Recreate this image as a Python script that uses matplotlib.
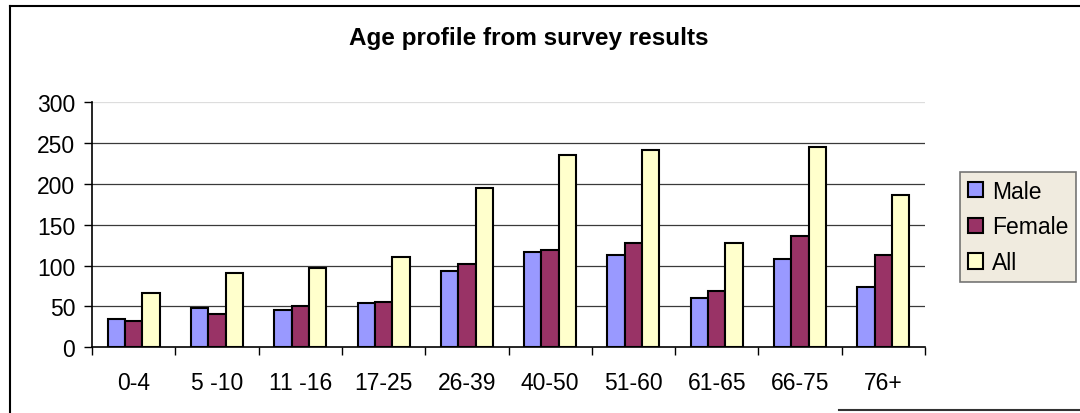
import numpy as np
import matplotlib
matplotlib.use("Agg")
import matplotlib.pyplot as plt
from matplotlib.lines import Line2D

plt.rcParams["font.family"] = ["Liberation Sans", "DejaVu Sans"]

ages = ["0-4", "5 -10", "11 -16", "17-25", "26-39", "40-50", "51-60", "61-65", "66-75", "76+"]
male = [35, 48, 46, 54, 93, 117, 113, 60, 108, 74]
female = [32, 41, 51, 56, 102, 119, 128, 69, 136, 113]
everyone = [67, 91, 97, 110, 195, 236, 241, 128, 245, 187]

SERIES = [("Male", male, "#9999FF"),
          ("Female", female, "#993366"),
          ("All", everyone, "#FFFFCC")]

fig = plt.figure(figsize=(10.8, 4.14), dpi=100)
ax = fig.add_axes([92 / 1080, 1 - 348.3 / 414, (925 - 92) / 1080, (348.3 - 103.3) / 414])

x = np.arange(len(ages))
w = 0.208
for i, (lab, vals, col) in enumerate(SERIES):
    ax.bar(x + (i - 1) * w, vals, width=w, color=col, edgecolor="black",
           linewidth=1.5, label=lab, zorder=3)

ax.set_xlim(-0.5, len(ages) - 0.5)
ax.set_ylim(0, 300)
ax.set_yticks(range(0, 301, 50))
for yv in range(50, 300, 50):
    ax.axhline(yv, color="#3a3a3a", lw=0.9, zorder=1)
ax.axhline(300, color="#dddddd", lw=0.9, zorder=1)

ax.set_xticks(x)
ax.set_xticklabels(ages)
ax.set_xticks(np.arange(-0.5, len(ages), 1), minor=True)
ax.tick_params(axis="x", which="major", length=0, pad=17, labelsize=16.5)
ax.tick_params(axis="x", which="minor", length=6, width=1, direction="out")
ax.tick_params(axis="y", length=6, width=1, direction="out", labelsize=16.5, pad=6)

for s in ("top", "right"):
    ax.spines[s].set_visible(False)
ax.spines["left"].set_linewidth(1.2)
ax.spines["bottom"].set_linewidth(1.2)

fig.text(529 / 1080, 1 - 39 / 414, "Age profile from survey results",
         ha="center", va="center", fontsize=17.5, fontweight="bold")

leg = fig.legend(loc="upper left", bbox_to_anchor=(960 / 1080, 1 - 172.7 / 414),
                 fontsize=16.5, frameon=True, fancybox=False, handlelength=0.65,
                 handleheight=0.65, handletextpad=0.4, labelspacing=0.55,
                 borderpad=0.35, borderaxespad=0)
leg.get_frame().set_facecolor("#EDE7D7")
leg.get_frame().set_edgecolor("#555555")
leg.get_frame().set_linewidth(1.2)
for h in leg.legend_handles:
    h.set_linewidth(1.5)

# outer chart frame (partly cropped in the reference)
fig.add_artist(Line2D([10 / 1080, 10 / 1080], [0, 1 - 7 / 414], color="black", lw=1.5))
fig.add_artist(Line2D([10 / 1080, 1], [1 - 7 / 414, 1 - 7 / 414], color="black", lw=1.5))
fig.add_artist(Line2D([839 / 1080, 1], [1 - 411 / 414, 1 - 411 / 414], color="#333333", lw=1.5))

fig.savefig("out.png", dpi=100)
